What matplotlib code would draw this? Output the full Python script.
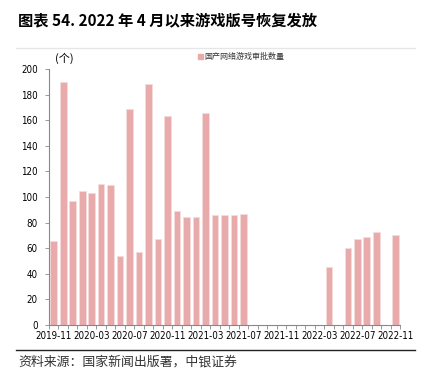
import matplotlib.pyplot as plt
from matplotlib.ticker import FixedLocator, NullFormatter

plt.rcParams['font.family'] = ['DejaVu Sans', 'Noto Sans CJK SC']
plt.rcParams['font.stretch'] = 'condensed'

# monthly approvals, 2019-11 .. 2022-11 (0 = no approvals that month)
months = ['2019-11', '2019-12', '2020-01', '2020-02', '2020-03', '2020-04', '2020-05',
          '2020-06', '2020-07', '2020-08', '2020-09', '2020-10', '2020-11', '2020-12',
          '2021-01', '2021-02', '2021-03', '2021-04', '2021-05', '2021-06', '2021-07',
          '2021-08', '2021-09', '2021-10', '2021-11', '2021-12', '2022-01', '2022-02',
          '2022-03', '2022-04', '2022-05', '2022-06', '2022-07', '2022-08', '2022-09',
          '2022-10', '2022-11']
approvals = [66, 190, 97, 105, 103, 110, 109, 54, 169, 57, 188, 67, 163, 89,
             84, 84, 166, 86, 86, 86, 87,
             0, 0, 0, 0, 0, 0, 0, 0,
             45, 0, 60, 67, 69, 73, 0, 70]
y_ticks = list(range(0, 201, 20))

W, H = 421, 382
fig = plt.figure(figsize=(W / 100, H / 100), dpi=100)
ax = fig.add_axes([49 / W, (H - 325) / H, 351 / W, 256 / H])

bar_color = '#E8AAAA'
x = list(range(len(months)))
ax.bar(x, approvals, width=0.7, color=bar_color, edgecolor='#F6DCDC', linewidth=0.6)

ax.set_xlim(-0.5, len(months) - 0.5)
ax.set_ylim(0, 200)
ax.set_yticks(y_ticks)
ax.tick_params(axis='y', labelsize=7, length=3, width=0.6, color='#888888', pad=5)

major = x[::4]
ax.set_xticks(major)
ax.set_xticklabels([months[i] for i in major], fontsize=7)
ax.tick_params(axis='x', which='major', length=0, pad=4)
ax.xaxis.set_minor_locator(FixedLocator([i - 0.5 for i in range(len(months) + 1)]))
ax.xaxis.set_minor_formatter(NullFormatter())
ax.tick_params(axis='x', which='minor', length=3, width=0.6, color='#888888')

for s in ['top', 'right']:
    ax.spines[s].set_visible(False)
for s in ['left', 'bottom']:
    ax.spines[s].set_color('#888888')
    ax.spines[s].set_linewidth(0.8)

# unit label and legend
fig.text(55 / W, 1 - 58 / H, '(个)', fontsize=8, va='center',
         family=['Noto Sans CJK SC', 'DejaVu Sans'])
fig.patches.append(plt.Rectangle((198 / W, 1 - 59 / H), 5 / W, 5 / H,
                                 transform=fig.transFigure, color=bar_color))
fig.text(204 / W, 1 - 56.5 / H, '国产网络游戏审批数量', fontsize=5.8, va='center',
         color='#333333', family=['Noto Sans CJK SC', 'DejaVu Sans'])

# title, separators, source
fig.text(18 / W, 1 - 20 / H, '图表 54. 2022 年 4 月以来游戏版号恢复发放', fontsize=11,
         fontweight='bold', va='center', family=['Noto Sans CJK SC', 'DejaVu Sans'])
fig.add_artist(plt.Line2D([16 / W, 415 / W], [1 - 48 / H, 1 - 48 / H], color='#E6E6E6', lw=1))
fig.add_artist(plt.Line2D([16 / W, 415 / W], [1 - 350 / H, 1 - 350 / H], color='#222222', lw=1))
fig.text(18 / W, 1 - 362 / H, '资料来源：国家新闻出版署，中银证券', fontsize=9.3, va='center',
         style='italic', color='#333333', family=['Noto Sans CJK SC', 'DejaVu Sans'])

fig.savefig('out.png', dpi=100)
